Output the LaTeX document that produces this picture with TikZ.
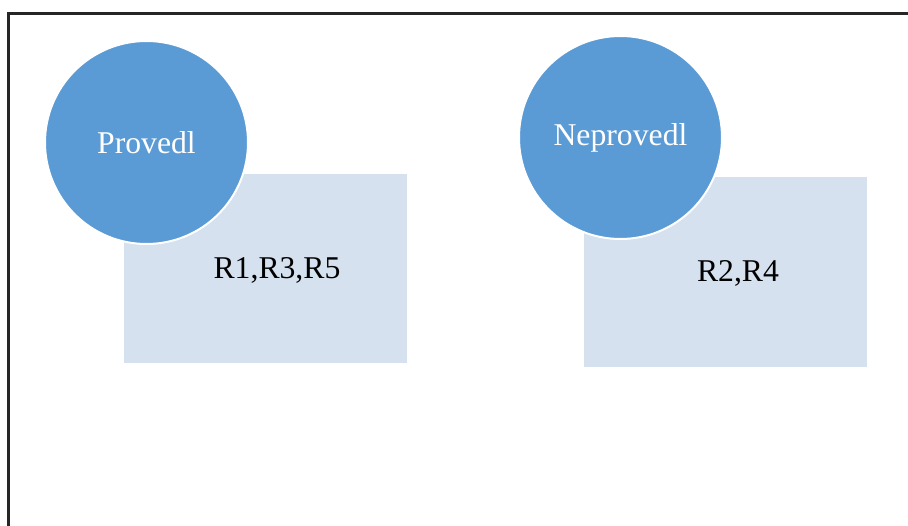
\documentclass[tikz,border=0pt]{standalone}
\usepackage{fontspec}
\setmainfont{Liberation Serif}
\definecolor{circblue}{RGB}{91,155,213}
\definecolor{boxblue}{RGB}{213,225,239}
\tikzset{
  groupbox/.style={fill=boxblue, draw=none, anchor=north west, inner sep=0pt},
  groupcirc/.style={circle, fill=circblue, draw=white, line width=2pt,
    minimum size=203pt, inner sep=0pt},
  circtext/.style={text=white, font=\fontsize{31.7}{36}\selectfont},
  boxtext/.style={text=black, font=\fontsize{31.7}{36}\selectfont},
}
\begin{document}
\begin{tikzpicture}[x=1pt, y=-1pt]
  \useasboundingbox (0,0) rectangle (908,526);
  % frame (open to the right and bottom)
  \draw[line width=2.4pt, black!85] (8.5,526) -- (8.5,13.5) -- (908,13.5);

  % first group
  \node[groupbox, minimum width=283pt, minimum height=189pt] (box1) at (124,174) {};
  \node[boxtext] (lbl1) at (277,270) {R1,R3,R5};
  \node[groupcirc] (circ1) at (146.5,142.5) {};
  \node[circtext] (head1) at (circ1.center) {Provedl};

  % second group
  \node[groupbox, minimum width=283pt, minimum height=190pt] (box2) at (584,177) {};
  \node[boxtext] (lbl2) at (738,273) {R2,R4};
  \node[groupcirc] (circ2) at (620.5,137.5) {};
  \node[circtext] (head2) at (circ2.center) {Neprovedl};
\end{tikzpicture}
\end{document}
